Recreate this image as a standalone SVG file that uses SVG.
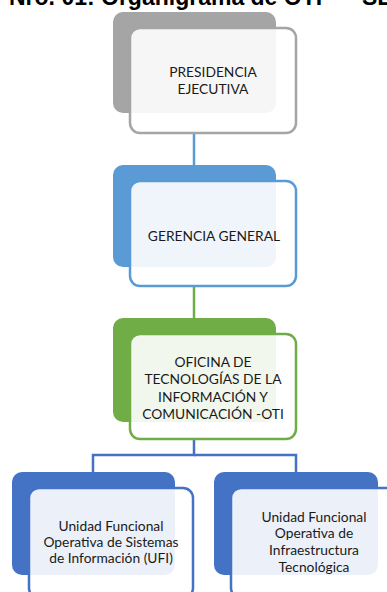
<svg xmlns="http://www.w3.org/2000/svg" width="387" height="592" viewBox="0 0 387 592">
<style>
.bg{stroke:none}
.fr{fill:#ffffff;fill-opacity:0.9;stroke-width:2.5}
.t{font-family:Lato,"Liberation Sans",sans-serif;font-size:13.8px;fill:#1a1a1a;text-anchor:middle}
.title{font-family:"Liberation Sans",Arial,sans-serif;font-weight:bold;font-size:23px;fill:#000}
.c{fill:none;stroke-width:2.5}
</style>
<rect width="387" height="592" fill="#fff"/>
<text class="title" x="9" y="5">Nro. 01: Organigrama de OTI<tspan x="332">–</tspan><tspan x="362">SE</tspan></text>
<g id="connectors">
<line class="c" x1="194" y1="134" x2="194" y2="165" stroke="#5B9BD5"/>
<line class="c" x1="194" y1="287" x2="194" y2="318" stroke="#70AD47"/>
<polyline class="c" points="194,439 194,455 93,455 93,472" stroke="#4472C4"/>
<polyline class="c" points="194,455 296,455 296,472" stroke="#4472C4"/>
</g>
<g id="presidencia">
<rect class="bg" x="113" y="12" width="163" height="101" rx="10" fill="#A5A5A5"/>
<rect class="fr" x="130" y="28" width="166" height="105" rx="10" stroke="#A5A5A5"/>
<text class="t" x="213" y="77">PRESIDENCIA</text>
<text class="t" x="213" y="94">EJECUTIVA</text>
</g>
<g id="gerencia">
<rect class="bg" x="113" y="165" width="163" height="102" rx="10" fill="#5B9BD5"/>
<rect class="fr" x="130" y="181" width="166" height="105" rx="10" stroke="#5B9BD5"/>
<text class="t" x="214" y="241">GERENCIA GENERAL</text>
</g>
<g id="oti">
<rect class="bg" x="113" y="318" width="163" height="104" rx="10" fill="#70AD47"/>
<rect class="fr" x="130" y="334" width="166" height="105" rx="10" stroke="#70AD47"/>
<text class="t" x="213" y="367">OFICINA DE</text>
<text class="t" x="213" y="384">TECNOLOGÍAS DE LA</text>
<text class="t" x="213" y="402">INFORMACIÓN Y</text>
<text class="t" x="213" y="419">COMUNICACIÓN -OTI</text>
</g>
<g id="ufi">
<rect class="bg" x="12" y="472" width="163" height="103" rx="10" fill="#4472C4"/>
<rect class="fr" x="29" y="488" width="164" height="110" rx="10" stroke="#4472C4"/>
<text class="t" x="111" y="531">Unidad Funcional</text>
<text class="t" x="111" y="547">Operativa de Sistemas</text>
<text class="t" x="111" y="563">de Información (UFI)</text>
</g>
<g id="infraestructura">
<rect class="bg" x="214" y="472" width="164" height="103" rx="10" fill="#4472C4"/>
<rect class="fr" x="231" y="488" width="166" height="110" rx="10" stroke="#4472C4"/>
<text class="t" x="314" y="522">Unidad Funcional</text>
<text class="t" x="314" y="538">Operativa de</text>
<text class="t" x="314" y="555">Infraestructura</text>
<text class="t" x="314" y="572">Tecnológica</text>
</g>
</svg>
